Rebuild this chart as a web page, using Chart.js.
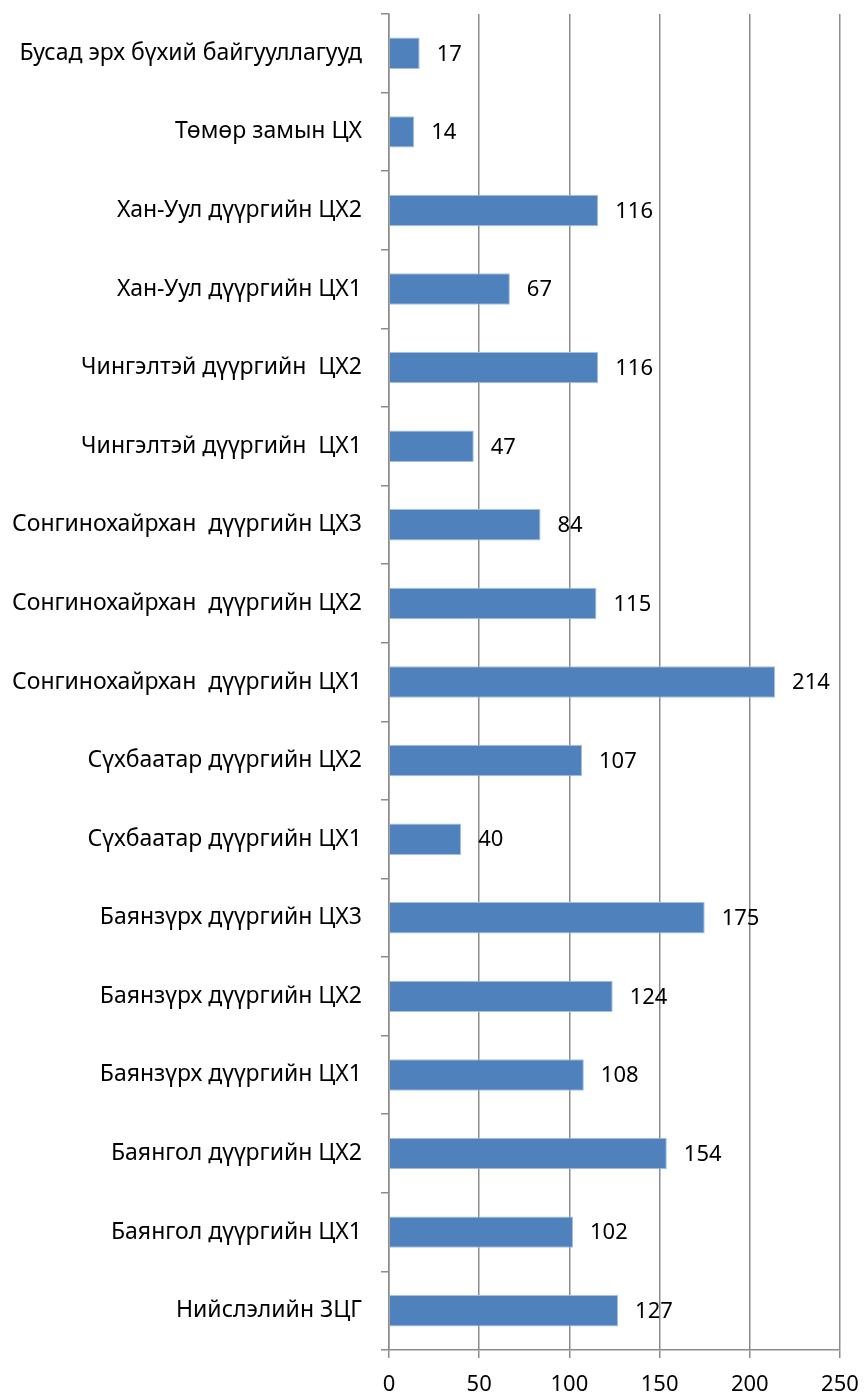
<!DOCTYPE html>
<html>
<head>
<meta charset="utf-8">
<script src="https://cdn.jsdelivr.net/npm/chart.js@4"></script>
<style>
  html, body { margin: 0; padding: 0; background: #fff; }
  #wrap { width: 864px; height: 1396px; }
</style>
</head>
<body>
<div id="wrap"><canvas id="barChart"></canvas></div>
<script>
const categories = [
  "Бусад эрх бүхий байгууллагууд",
  "Төмөр замын ЦХ",
  "Хан-Уул дүүргийн ЦХ2",
  "Хан-Уул дүүргийн ЦХ1",
  "Чингэлтэй дүүргийн  ЦХ2",
  "Чингэлтэй дүүргийн  ЦХ1",
  "Сонгинохайрхан  дүүргийн ЦХ3",
  "Сонгинохайрхан  дүүргийн ЦХ2",
  "Сонгинохайрхан  дүүргийн ЦХ1",
  "Сүхбаатар дүүргийн ЦХ2",
  "Сүхбаатар дүүргийн ЦХ1",
  "Баянзүрх дүүргийн ЦХ3",
  "Баянзүрх дүүргийн ЦХ2",
  "Баянзүрх дүүргийн ЦХ1",
  "Баянгол дүүргийн ЦХ2",
  "Баянгол дүүргийн ЦХ1",
  "Нийслэлийн ЗЦГ",
];
const values = [17, 14, 116, 67, 116, 47, 84, 115, 214, 107, 40, 175, 124, 108, 154, 102, 127];
const xTicks = [0, 50, 100, 150, 200, 250];

const FONT = "'Noto Sans', sans-serif";

// value labels to the right of each bar
const barLabels = {
  id: "barLabels",
  afterDatasetsDraw(chart) {
    const ctx = chart.ctx;
    const meta = chart.getDatasetMeta(0);
    ctx.save();
    ctx.font = "22px " + FONT;
    ctx.fillStyle = "#000";
    ctx.textAlign = "left";
    ctx.textBaseline = "middle";
    meta.data.forEach((bar, i) => {
      ctx.fillText(String(values[i]), bar.x + 17, bar.y + 1);
    });
    ctx.restore();
  },
};

new Chart(document.getElementById("barChart").getContext("2d"), {
  type: "bar",
  data: {
    labels: categories,
    datasets: [
      {
        data: values,
        backgroundColor: "#4F81BD",
        borderColor: "#A7C0E0",
        borderWidth: 1,
        barPercentage: 0.4,
        categoryPercentage: 1,
      },
    ],
  },
  options: {
    indexAxis: "y",
    responsive: true,
    maintainAspectRatio: false,
    animation: false,
    layout: { padding: { top: 14, right: 24, left: 0, bottom: 0 } },
    plugins: {
      legend: { display: false },
      tooltip: { enabled: false },
    },
    scales: {
      x: {
        min: 0,
        max: 250,
        afterBuildTicks: (axis) => {
          axis.ticks = xTicks.map((v) => ({ value: v }));
        },
        afterFit: (axis) => {
          axis.height = 46;
          axis.paddingLeft = 0; // keep the plot edge fixed
          axis.paddingRight = 0;
        },
        grid: { color: "#8c8c8c", lineWidth: 1.5, tickLength: 8 },
        border: { color: "#8c8c8c", width: 1.5 },
        ticks: { color: "#000", font: { family: FONT, size: 22 }, padding: 14 },
      },
      y: {
        afterFit: (axis) => {
          axis.width = 389;
          axis.paddingTop = 0; // tick padding would push the plot down
          axis.paddingBottom = 0;
        },
        grid: { offset: true, drawOnChartArea: false, color: "#8c8c8c", lineWidth: 1.5, tickLength: 8 },
        border: { color: "#8c8c8c", width: 1.5 },
        ticks: { color: "#000", font: { family: FONT, size: 23 }, padding: 19, autoSkip: false },
      },
    },
  },
  plugins: [barLabels],
});
</script>
</body>
</html>
